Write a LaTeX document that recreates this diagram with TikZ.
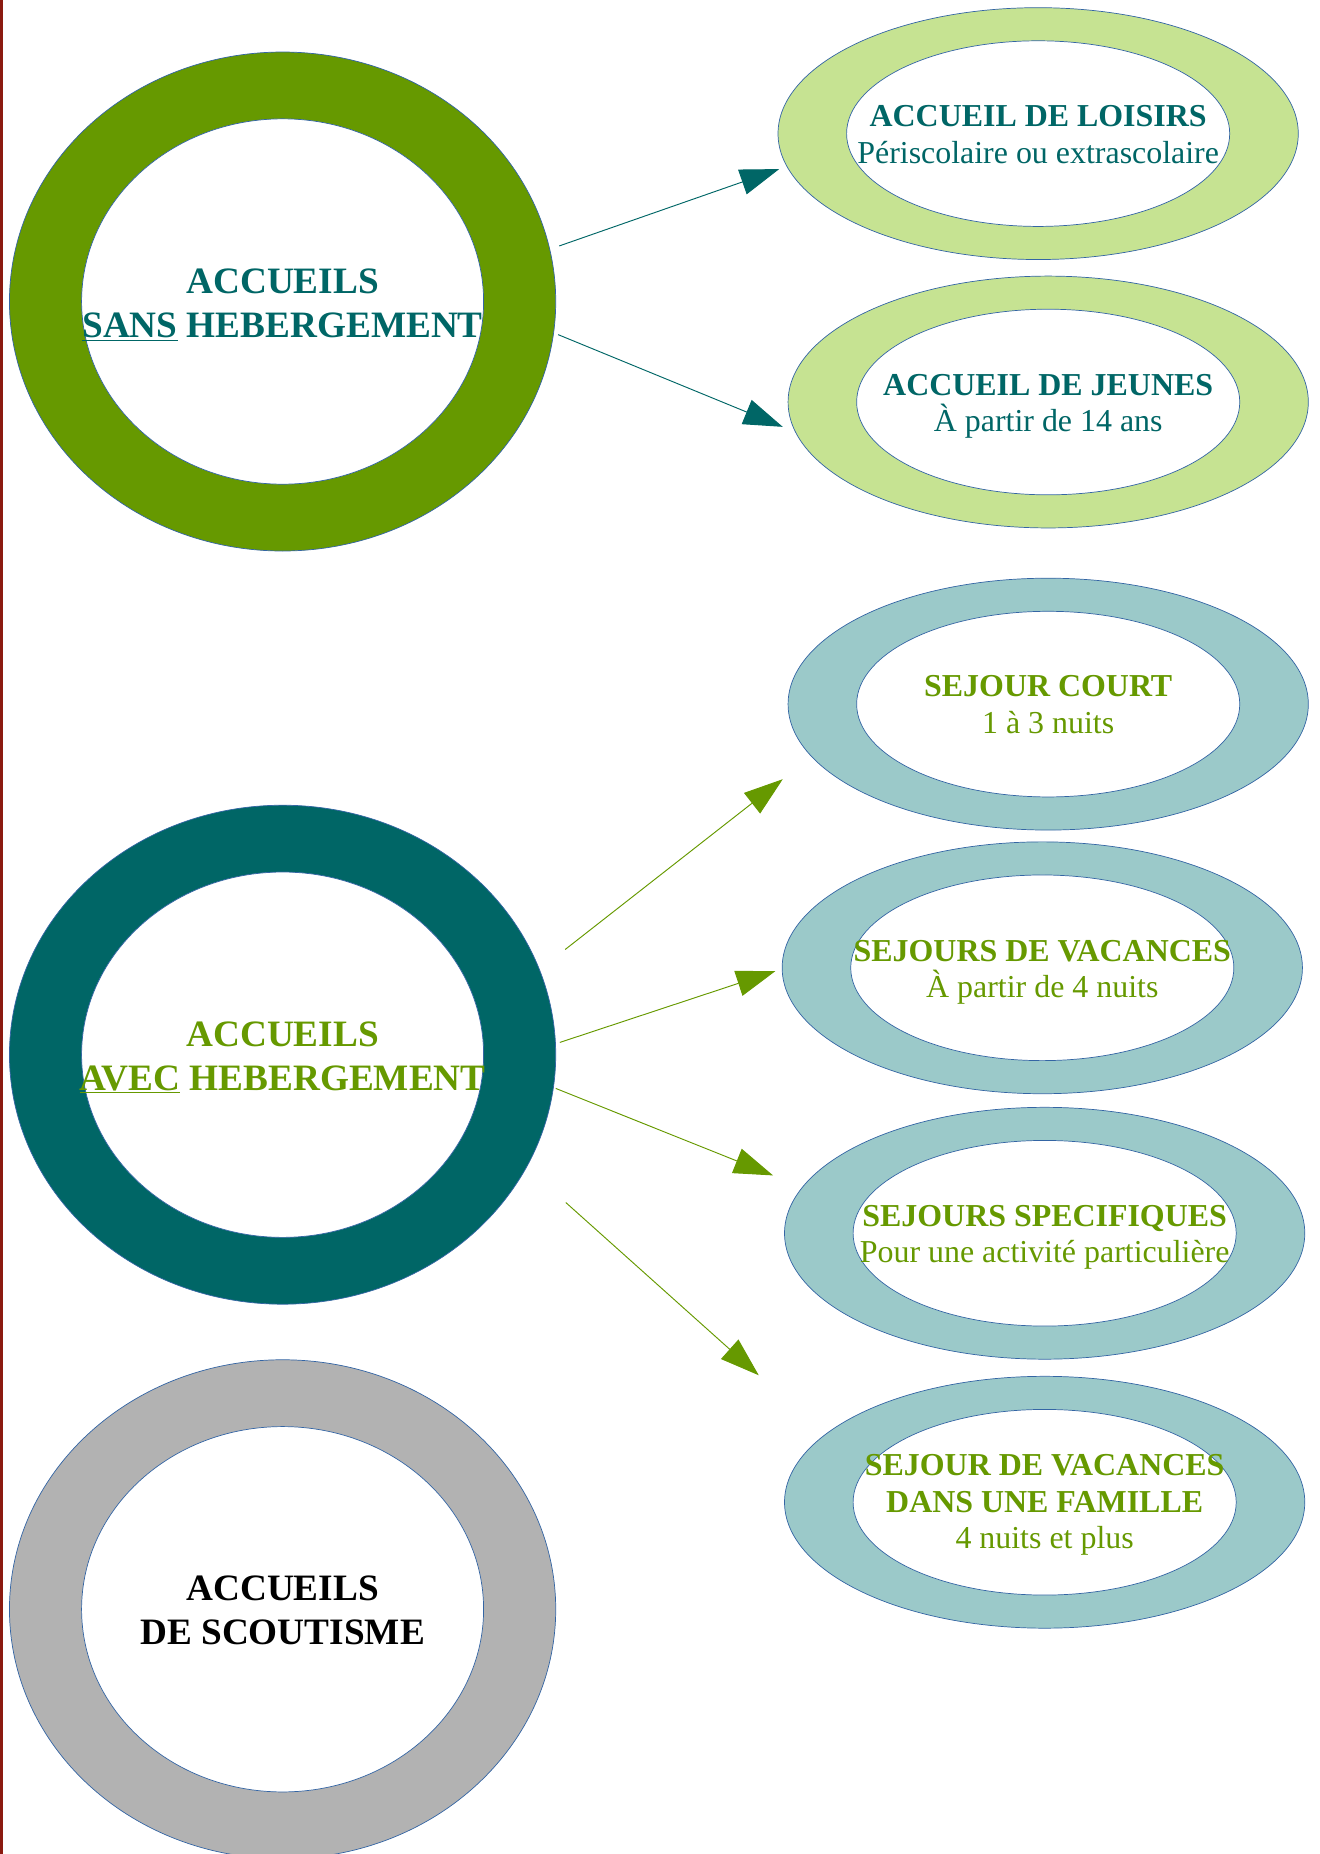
\documentclass[tikz,border=0pt]{standalone}
\usepackage{fontspec}
\setmainfont{Liberation Serif}
\usepackage{tikz}
\usetikzlibrary{shapes.geometric, arrows.meta, calc}

\definecolor{ringline}{HTML}{3465A4}
\definecolor{sanscol}{HTML}{669900}
\definecolor{aveccol}{HTML}{006666}
\definecolor{scoutcol}{HTML}{B2B2B2}
\definecolor{lightlime}{HTML}{C6E392}
\definecolor{lightteal}{HTML}{9BC9C9}
\definecolor{borderred}{HTML}{8B1A10}

\tikzset{
    ring/.style={ellipse, draw=ringline, line width=0.6pt, inner sep=0pt, outer sep=0pt},
    bigring/.style={ring, minimum width=462pt, minimum height=422pt},
    bighole/.style={ring, fill=white, minimum width=340pt, minimum height=309pt},
    smallring/.style={ring, minimum width=440pt, minimum height=213pt},
    smallhole/.style={ring, fill=white, minimum width=324pt, minimum height=157pt},
    bigtext/.style={align=center, anchor=base, font=\fontsize{31.5pt}{37.2pt}\selectfont\bfseries},
    smalltext/.style={align=center, anchor=base, font=\fontsize{27pt}{31pt}\selectfont},
    tealarrow/.style={draw=aveccol, line width=0.8pt, -{Triangle[length=33pt,width=22pt]}},
    limearrow/.style={draw=sanscol, line width=0.8pt, -{Triangle[length=33pt,width=22pt]}}
}

\begin{document}
\begin{tikzpicture}[x=1pt, y=-1pt]
    \useasboundingbox (0,0) rectangle (1116,1568);
    \fill[borderred] (0,0) rectangle (2.5,1568);

    \node[bigring, fill=sanscol] (sans) at (239,255) {};
    \node[bighole] (sans-in) at (sans) {};
    \node[bigtext, text=aveccol] (sans-txt) at (239,285.7) {ACCUEILS\\\underline{SANS} HEBERGEMENT};

    \node[bigring, fill=aveccol] (avec) at (239,892) {};
    \node[bighole] (avec-in) at (avec) {};
    \node[bigtext, text=sanscol] (avec-txt) at (239,922) {ACCUEILS\\\underline{AVEC} HEBERGEMENT};

    \node[bigring, fill=scoutcol] (scout) at (239,1361) {};
    \node[bighole] (scout-in) at (scout) {};
    \node[bigtext, text=black] (scout-txt) at (239,1391) {ACCUEILS\\DE SCOUTISME};

    \node[smallring, fill=lightlime] (loisirs) at (878,113) {};
    \node[smallhole] (loisirs-in) at (loisirs) {};
    \node[smalltext, text=aveccol] (loisirs-txt) at (878,138.3) {\textbf{ACCUEIL DE LOISIRS}\\P\'eriscolaire ou extrascolaire};

    \node[smallring, fill=lightlime] (jeunes) at (886.5,340) {};
    \node[smallhole] (jeunes-in) at (jeunes) {};
    \node[smalltext, text=aveccol] (jeunes-txt) at (886.5,365.3) {\textbf{ACCUEIL DE JEUNES}\\\`A partir de 14 ans};

    \node[smallring, fill=lightteal] (court) at (886.5,595.5) {};
    \node[smallhole] (court-in) at (court) {};
    \node[smalltext, text=sanscol] (court-txt) at (886.5,620) {\textbf{SEJOUR COURT}\\1 \`a 3 nuits};

    \node[smallring, fill=lightteal] (vacances) at (881.5,818.5) {};
    \node[smallhole] (vacances-in) at (vacances) {};
    \node[smalltext, text=sanscol] (vacances-txt) at (881.5,844) {\textbf{SEJOURS DE VACANCES}\\\`A partir de 4 nuits};

    \node[smallring, fill=lightteal] (specif) at (883.5,1043) {};
    \node[smallhole] (specif-in) at (specif) {};
    \node[smalltext, text=sanscol] (specif-txt) at (883.5,1068) {\textbf{SEJOURS SPECIFIQUES}\\Pour une activit\'e particuli\`ere};

    \node[smallring, fill=lightteal] (famille) at (883.5,1270.5) {};
    \node[smallhole] (famille-in) at (famille) {};
    \node[smalltext, text=sanscol] (famille-txt) at (883.5,1310) {\textbf{SEJOUR DE VACANCES}\\\textbf{DANS UNE FAMILLE}\\4 nuits et plus};

    \coordinate (sans-o1) at ($(sans)+(234,-47)$);
    \coordinate (sans-o2) at ($(sans)+(233,28)$);
    \coordinate (loisirs-i) at ($(loisirs)+(-219,30)$);
    \coordinate (jeunes-i) at ($(jeunes)+(-224.5,21)$);
    \draw[tealarrow] (sans-o1) -- (loisirs-i);
    \draw[tealarrow] (sans-o2) -- (jeunes-i);

    \coordinate (avec-o1) at ($(avec)+(239,-89)$);
    \coordinate (avec-o2) at ($(avec)+(234.5,-10.4)$);
    \coordinate (avec-o3) at ($(avec)+(231,28.5)$);
    \coordinate (avec-o4) at ($(avec)+(239.5,125)$);
    \coordinate (court-i) at ($(court)+(-224.5,63.5)$);
    \coordinate (vacances-i) at ($(vacances)+(-225.7,2.8)$);
    \coordinate (specif-i) at ($(specif)+(-229.7,-48.9)$);
    \coordinate (famille-i) at ($(famille)+(-241.8,-107.4)$);
    \draw[limearrow] (avec-o1) -- (court-i);
    \draw[limearrow] (avec-o2) -- (vacances-i);
    \draw[limearrow] (avec-o3) -- (specif-i);
    \draw[limearrow] (avec-o4) -- (famille-i);
\end{tikzpicture}
\end{document}
